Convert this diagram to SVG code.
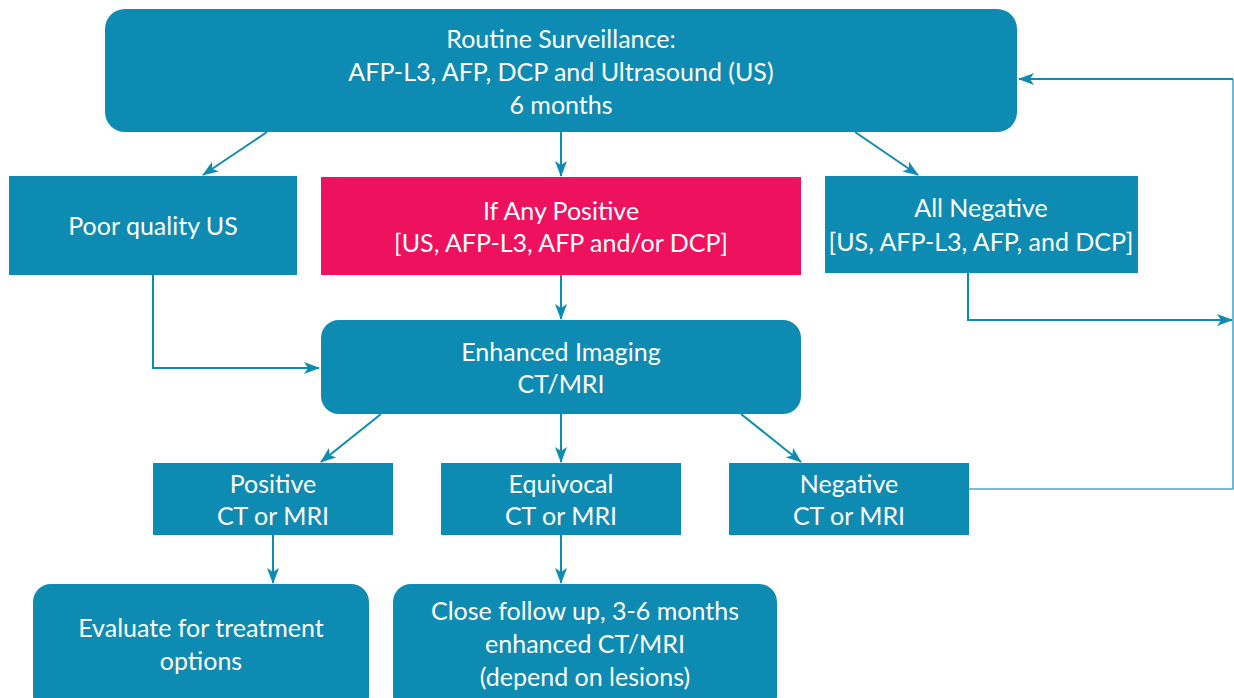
<svg xmlns="http://www.w3.org/2000/svg" width="1234" height="698" viewBox="0 0 1234 698">
  <style>
    .box { fill: #0e8bb2; }
    .alert { fill: #ee115d; }
    .label { fill: #ffffff; font-family: Lato, "Open Sans", sans-serif; font-size: 25px; text-anchor: middle; }
    .edge { fill: none; stroke: #0e8bb2; stroke-width: 2; }
    .thin { fill: none; stroke: #4aa8c8; stroke-width: 1.6; }
  </style>
  <defs>
    <marker id="arrow" markerUnits="userSpaceOnUse" markerWidth="16" markerHeight="12" refX="15" refY="6" orient="auto">
      <path d="M0,0 L16,6 L0,12 L4,6 Z" fill="#0e8bb2"/>
    </marker>
  </defs>
  <rect width="1234" height="698" fill="#ffffff"/>

  <g id="connectors">
    <line class="edge" x1="267" y1="132" x2="203" y2="175" marker-end="url(#arrow)"/>
    <line class="edge" x1="561" y1="132" x2="561" y2="176" marker-end="url(#arrow)"/>
    <line class="edge" x1="855" y1="132" x2="918" y2="175" marker-end="url(#arrow)"/>
    <polyline class="edge" points="153,275 153,368 319,368" marker-end="url(#arrow)"/>
    <line class="edge" x1="561" y1="275" x2="561" y2="319" marker-end="url(#arrow)"/>
    <polyline class="edge" points="968,273 968,320 1232,320" marker-end="url(#arrow)"/>
    <polyline class="thin" points="969,489 1233,489 1233,79"/>
    <line class="edge" x1="1233" y1="79" x2="1019" y2="79" marker-end="url(#arrow)"/>
    <line class="edge" x1="381" y1="414" x2="321" y2="462" marker-end="url(#arrow)"/>
    <line class="edge" x1="561" y1="414" x2="561" y2="462" marker-end="url(#arrow)"/>
    <line class="edge" x1="741" y1="414" x2="801" y2="462" marker-end="url(#arrow)"/>
    <line class="edge" x1="273" y1="535" x2="273" y2="583" marker-end="url(#arrow)"/>
    <line class="edge" x1="561" y1="535" x2="561" y2="583" marker-end="url(#arrow)"/>
  </g>

  <g id="surveillance">
    <rect class="box" x="105" y="9" width="912" height="123" rx="20"/>
    <text class="label" x="561" y="48">Routine Surveillance:</text>
    <text class="label" x="561" y="81">AFP-L3, AFP, DCP and Ultrasound (US)</text>
    <text class="label" x="561" y="114">6 months</text>
  </g>

  <g id="poor-quality">
    <rect class="box" x="9" y="176" width="288" height="99"/>
    <text class="label" x="153" y="235">Poor quality US</text>
  </g>

  <g id="any-positive">
    <rect class="alert" x="321" y="177" width="480" height="98"/>
    <text class="label" x="561" y="220">If Any Positive</text>
    <text class="label" x="561" y="252">[US, AFP-L3, AFP and/or DCP]</text>
  </g>

  <g id="all-negative">
    <rect class="box" x="825" y="176" width="313" height="97"/>
    <text class="label" x="981" y="217">All Negative</text>
    <text class="label" x="981" y="251">[US, AFP-L3, AFP, and DCP]</text>
  </g>

  <g id="enhanced-imaging">
    <rect class="box" x="321" y="320" width="480" height="94" rx="18"/>
    <text class="label" x="561" y="361">Enhanced Imaging</text>
    <text class="label" x="561" y="393">CT/MRI</text>
  </g>

  <g id="positive">
    <rect class="box" x="153" y="463" width="240" height="72"/>
    <text class="label" x="273" y="493">Positive</text>
    <text class="label" x="273" y="525">CT or MRI</text>
  </g>

  <g id="equivocal">
    <rect class="box" x="441" y="463" width="240" height="72"/>
    <text class="label" x="561" y="493">Equivocal</text>
    <text class="label" x="561" y="525">CT or MRI</text>
  </g>

  <g id="negative">
    <rect class="box" x="729" y="463" width="240" height="72"/>
    <text class="label" x="849" y="493">Negative</text>
    <text class="label" x="849" y="525">CT or MRI</text>
  </g>

  <g id="evaluate">
    <rect class="box" x="33" y="584" width="336" height="130" rx="18"/>
    <text class="label" x="201" y="637">Evaluate for treatment</text>
    <text class="label" x="201" y="670">options</text>
  </g>

  <g id="follow-up">
    <rect class="box" x="393" y="584" width="384" height="130" rx="18"/>
    <text class="label" x="585" y="620">Close follow up, 3-6 months</text>
    <text class="label" x="585" y="653">enhanced CT/MRI</text>
    <text class="label" x="585" y="686">(depend on lesions)</text>
  </g>
</svg>
